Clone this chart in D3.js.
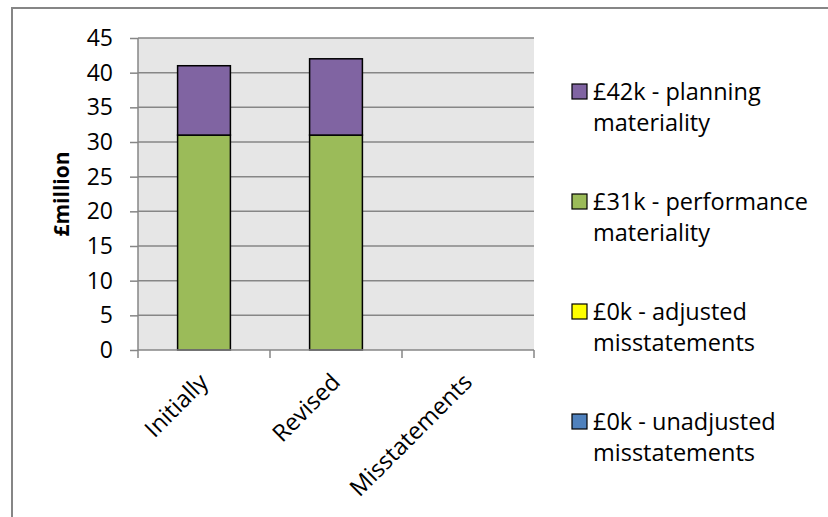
<!DOCTYPE html>
<meta charset="utf-8">
<script src="https://cdn.jsdelivr.net/npm/d3@7"></script>
<style>
  body { margin: 0; background: #fff; }
  text { font-family: "Open Sans", sans-serif; fill: #000; }
</style>
<body>
<script>

var width = 828
var height = 517

// data
var categories = ["Initially", "Revised", "Misstatements"]
var unadjusted = [0, 0, 0]
var adjusted = [0, 0, 0]
var performance = [31, 31, 0]
var planning = [10, 11, 0]
var yTicks = [0, 5, 10, 15, 20, 25, 30, 35, 40, 45]

var seriesKeys = ["unadjusted", "adjusted", "performance", "planning"]
var seriesColors = {unadjusted: "#4f81bd", adjusted: "#ffff00", performance: "#9bbb59", planning: "#8064a2"}
var legendLines = {
  planning: ["£42k - planning", "materiality"],
  performance: ["£31k - performance", "materiality"],
  adjusted: ["£0k - adjusted", "misstatements"],
  unadjusted: ["£0k - unadjusted", "misstatements"]
}
var legendOrder = ["planning", "performance", "adjusted", "unadjusted"]

var rows = categories.map(function(c, i) {
  return {cat: c, unadjusted: unadjusted[i], adjusted: adjusted[i], performance: performance[i], planning: planning[i]}
})

var plot = {left: 138, right: 534, top: 38, bottom: 350}
var fontSize = "23px"

var x = d3.scaleBand().domain(categories).range([plot.left, plot.right]).paddingInner(0.6).paddingOuter(0.3)
var y = d3.scaleLinear().domain([0, 45]).range([plot.bottom, plot.top])

var svg = d3.select("body").append("svg")
    .attr("width", width)
    .attr("height", height)

// outer chart border (right and bottom fall outside the picture)
svg.append("rect")
    .attr("x", 12).attr("y", 8)
    .attr("width", 840).attr("height", 540)
    .attr("fill", "none")
    .attr("stroke", "#868686")
    .attr("stroke-width", 2)

// plot area
svg.append("rect")
    .attr("x", plot.left).attr("y", plot.top)
    .attr("width", plot.right - plot.left).attr("height", plot.bottom - plot.top)
    .attr("fill", "#e6e6e6")

// grid lines
svg.append("g").selectAll("line").data(yTicks.filter(function(d) { return d > 0 })).join("line")
    .attr("x1", plot.left).attr("x2", plot.right)
    .attr("y1", function(d) { return y(d) }).attr("y2", function(d) { return y(d) })
    .attr("stroke", "#868686")
    .attr("stroke-width", 1.5)

// y axis
var yAxis = svg.append("g")
    .attr("transform", "translate(" + plot.left + ",0)")
    .call(d3.axisLeft(y).tickValues(yTicks).tickSize(8).tickPadding(17))
yAxis.selectAll("line, path").attr("stroke", "#868686").attr("stroke-width", 1.5)
yAxis.select(".domain").attr("d", "M0," + plot.top + "V" + plot.bottom)
yAxis.selectAll("text").style("font-size", fontSize).style("font-family", "Open Sans").attr("fill", "#000")

svg.append("text")
   .attr("transform", "translate(62," + ((plot.top + plot.bottom) / 2) + ") rotate(-90)")
   .attr("text-anchor", "middle")
   .attr("dy", "0.35em")
   .style("font-size", "21px")
   .style("font-weight", "bold")
   .text("£million")

// stacked bars
var stacked = d3.stack().keys(seriesKeys)(rows)
svg.append("g").selectAll("g").data(stacked).join("g")
    .attr("fill", function(s) { return seriesColors[s.key] })
  .selectAll("rect").data(function(s) { return s.filter(function(d) { return d[1] > d[0] }) }).join("rect")
    .attr("x", function(d) { return x(d.data.cat) })
    .attr("width", x.bandwidth())
    .attr("y", function(d) { return y(d[1]) })
    .attr("height", function(d) { return y(d[0]) - y(d[1]) })
    .attr("stroke", "#000")
    .attr("stroke-width", 1.5)

// x axis
var step = x.step()
var boundaries = categories.map(function(c) { return x(c) - (step - x.bandwidth()) / 2 }).concat([plot.right])
var xAxis = svg.append("g")
xAxis.append("line")
    .attr("x1", plot.left).attr("x2", plot.right)
    .attr("y1", plot.bottom).attr("y2", plot.bottom)
    .attr("stroke", "#868686").attr("stroke-width", 1.5)
xAxis.selectAll(".tick").data(boundaries).join("line")
    .attr("class", "tick")
    .attr("x1", function(d) { return d }).attr("x2", function(d) { return d })
    .attr("y1", plot.bottom).attr("y2", plot.bottom + 8)
    .attr("stroke", "#868686").attr("stroke-width", 1.5)
xAxis.selectAll("text").data(categories).join("text")
    .attr("transform", function(d) { return "translate(" + (x(d) + x.bandwidth() / 2 - 6) + "," + (plot.bottom + 22) + ") rotate(-45)" })
    .attr("text-anchor", "end")
    .attr("dy", "0.7em")
    .style("font-size", "23.5px")
    .text(function(d) { return d })

// legend
var legendY = [92, 202, 312, 422]
var legend = svg.append("g").selectAll("g").data(legendOrder).join("g")
    .attr("transform", function(d, i) { return "translate(572," + legendY[i] + ")" })
legend.append("rect")
    .attr("x", 0).attr("y", -8)
    .attr("width", 15).attr("height", 15)
    .attr("fill", function(d) { return seriesColors[d] })
    .attr("stroke", "#000")
    .attr("stroke-width", 1.2)
legend.append("text")
    .attr("x", 21)
    .style("font-size", "23.5px")
  .selectAll("tspan").data(function(d) { return legendLines[d] }).join("tspan")
    .attr("x", 21)
    .attr("y", function(d, i) { return i * 31 })
    .attr("dy", "0.35em")
    .text(function(d) { return d })

</script>
</body>
